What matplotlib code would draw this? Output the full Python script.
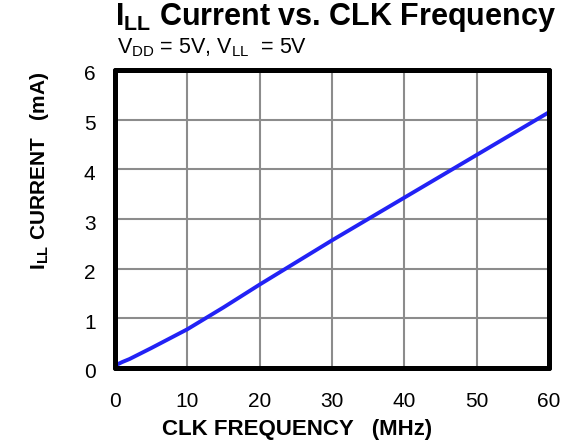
import matplotlib
matplotlib.use("Agg")
import matplotlib.pyplot as plt
import matplotlib.transforms as mtrans

freq_mhz = [0, 1, 2, 5, 10, 15, 20, 30, 40, 50, 60]
current_ma = [0.05, 0.12, 0.18, 0.40, 0.78, 1.22, 1.68, 2.57, 3.43, 4.29, 5.15]
x_ticks = [0, 10, 20, 30, 40, 50, 60]
y_ticks = [0, 1, 2, 3, 4, 5, 6]

plt.rcParams['font.family'] = ['Liberation Sans', 'DejaVu Sans']
plt.rcParams['mathtext.fontset'] = 'custom'
plt.rcParams['mathtext.rm'] = 'Liberation Sans'
plt.rcParams['mathtext.bf'] = 'Liberation Sans:bold'

W, H = 573, 445
fig = plt.figure(figsize=(W/100, H/100), dpi=100)
ax = fig.add_axes([115/W, 1-368/H, (549-115)/W, (368-70)/H])

ax.plot(freq_mhz, current_ma, color='#2222f5', lw=2.8, solid_capstyle='round')
ax.set_xlim(0, 60)
ax.set_ylim(0, 6)
ax.set_xticks(x_ticks)
ax.set_yticks(y_ticks)
ax.grid(True, color='#8c8c8c', lw=1.5)
ax.set_axisbelow(True)
for s in ax.spines.values():
    s.set_linewidth(3.6)
    s.set_color('black')
    s.set_capstyle('round')
ax.tick_params(length=0, labelsize=15)
ax.tick_params(axis='x', pad=17)
ax.tick_params(axis='y', pad=14)
off = mtrans.ScaledTranslation(0, -3/100, fig.dpi_scale_trans)
for lbl in ax.get_yticklabels():
    lbl.set_transform(lbl.get_transform() + off)

fig.text(297/W, 1-430/H, 'CLK FREQUENCY   (MHz)', fontsize=16, fontweight='bold',
         ha='center', va='center')
fig.text(40/W, 1-171/H, r'I$_{\mathbf{LL}}$ CURRENT   (mA)', fontsize=15, fontweight='bold',
         ha='center', va='center', rotation=90)

fig.text(335/W, 1-18/H, r'I$_{\mathbf{LL}}$ Current vs. CLK Frequency',
         fontsize=22, fontweight='bold', ha='center', va='center')
fig.text(117/W, 1-48/H, r'V$_{\mathrm{DD}}$ = 5V, V$_{\mathrm{LL}}$  = 5V',
         fontsize=15.5, ha='left', va='center')

fig.savefig('out.png', dpi=100)
